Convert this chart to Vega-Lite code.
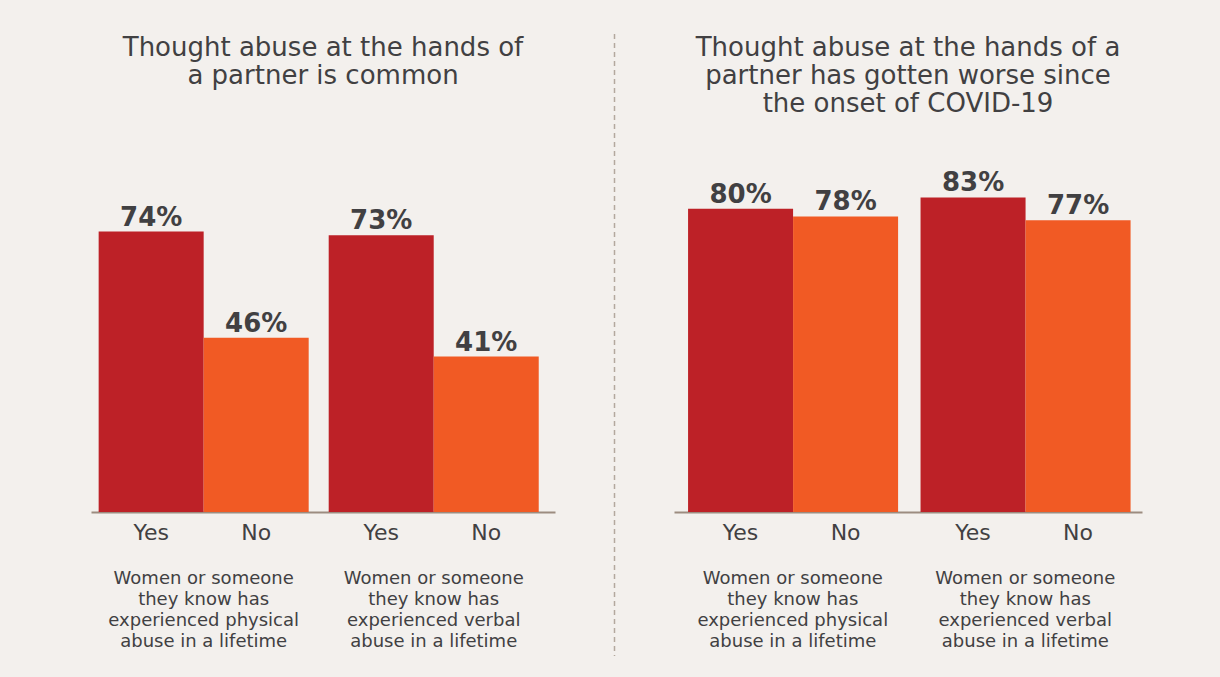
{
  "$schema": "https://vega.github.io/schema/vega-lite/v6.json",
  "background": "#F3F0ED",
  "padding": {"left": 91, "top": 33, "right": 80, "bottom": 23},
  "config": {
    "view": {"stroke": null},
    "font": "DejaVu Sans",
    "title": {"color": "#414042", "fontSize": 26, "fontWeight": 400, "lineHeight": 28, "anchor": "middle"}
  },
  "spacing": 58,
  "datasets": {
    "bars": [
      {"panel": "A", "group": "Women or someone|they know has|experienced physical|abuse in a lifetime", "answer": "Yes", "value": 0.74},
      {"panel": "A", "group": "Women or someone|they know has|experienced physical|abuse in a lifetime", "answer": "No", "value": 0.46},
      {"panel": "A", "group": "Women or someone|they know has|experienced verbal|abuse in a lifetime", "answer": "Yes", "value": 0.73},
      {"panel": "A", "group": "Women or someone|they know has|experienced verbal|abuse in a lifetime", "answer": "No", "value": 0.41},
      {"panel": "B", "group": "Women or someone|they know has|experienced physical|abuse in a lifetime", "answer": "Yes", "value": 0.80},
      {"panel": "B", "group": "Women or someone|they know has|experienced physical|abuse in a lifetime", "answer": "No", "value": 0.78},
      {"panel": "B", "group": "Women or someone|they know has|experienced verbal|abuse in a lifetime", "answer": "Yes", "value": 0.83},
      {"panel": "B", "group": "Women or someone|they know has|experienced verbal|abuse in a lifetime", "answer": "No", "value": 0.77}
    ],
    "sep": [{"top": 1.261, "bottom": -0.38}]
  },
  "hconcat": [
    {
      "width": 464,
      "height": 379,
      "title": {"text": ["Thought abuse at the hands of", "a partner is common"], "offset": 44},
      "data": {"name": "bars"},
      "transform": [{"filter": "datum.panel == 'A'"}],
      "encoding": {
        "x": {
          "field": "group", "type": "nominal", "sort": null,
          "scale": {"paddingInner": 0.087, "paddingOuter": 0.052, "align": 0.32},
          "axis": {"title": null, "ticks": false, "labelAngle": 0, "labelPadding": 57, "labelFontSize": 18, "labelFontWeight": 500, "labelColor": "#414042", "labelLineHeight": 21, "labelLimit": 0, "labelExpr": "split(datum.value, '|')", "domainColor": "#9C8C80", "domainWidth": 2}
        },
        "xOffset": {"field": "answer", "type": "nominal", "sort": ["Yes", "No"], "scale": {"paddingInner": 0, "paddingOuter": 0}}
      },
      "layer": [
        {
          "mark": {"type": "bar"},
          "encoding": {
            "y": {"field": "value", "type": "quantitative", "scale": {"domain": [0, 1]}, "axis": null},
            "color": {"field": "answer", "type": "nominal", "scale": {"domain": ["Yes", "No"], "range": ["#BD2127", "#F15A24"]}, "legend": null}
          }
        },
        {
          "mark": {"type": "text", "baseline": "alphabetic", "dy": -6, "fontSize": 26, "fontWeight": "bold", "color": "#414042"},
          "encoding": {
            "y": {"field": "value", "type": "quantitative"},
            "text": {"field": "value", "type": "quantitative", "format": ".0%"}
          }
        },
        {
          "mark": {"type": "text", "baseline": "alphabetic", "dy": 28, "fontSize": 22, "color": "#414042"},
          "encoding": {
            "y": {"datum": 0},
            "text": {"field": "answer", "type": "nominal"}
          }
        }
      ]
    },
    {
      "width": 1,
      "height": 379,
      "data": {"name": "sep"},
      "mark": {"type": "rule", "clip": false, "color": "#B3A89E", "strokeWidth": 1.5, "strokeDash": [5, 4]},
      "encoding": {
        "y": {"field": "top", "type": "quantitative", "scale": {"domain": [0, 1]}, "axis": null},
        "y2": {"field": "bottom"}
      }
    },
    {
      "width": 468,
      "height": 379,
      "title": {"text": ["Thought abuse at the hands of a", "partner has gotten worse since", "the onset of COVID-19"], "offset": 16},
      "data": {"name": "bars"},
      "transform": [{"filter": "datum.panel == 'B'"}],
      "encoding": {
        "x": {
          "field": "group", "type": "nominal", "sort": null,
          "scale": {"paddingInner": 0.099, "paddingOuter": 0.056, "align": 0.54},
          "axis": {"title": null, "ticks": false, "labelAngle": 0, "labelPadding": 57, "labelFontSize": 18, "labelFontWeight": 500, "labelColor": "#414042", "labelLineHeight": 21, "labelLimit": 0, "labelExpr": "split(datum.value, '|')", "domainColor": "#9C8C80", "domainWidth": 2}
        },
        "xOffset": {"field": "answer", "type": "nominal", "sort": ["Yes", "No"], "scale": {"paddingInner": 0, "paddingOuter": 0}}
      },
      "layer": [
        {
          "mark": {"type": "bar"},
          "encoding": {
            "y": {"field": "value", "type": "quantitative", "scale": {"domain": [0, 1]}, "axis": null},
            "color": {"field": "answer", "type": "nominal", "scale": {"domain": ["Yes", "No"], "range": ["#BD2127", "#F15A24"]}, "legend": null}
          }
        },
        {
          "mark": {"type": "text", "baseline": "alphabetic", "dy": -6, "fontSize": 26, "fontWeight": "bold", "color": "#414042"},
          "encoding": {
            "y": {"field": "value", "type": "quantitative"},
            "text": {"field": "value", "type": "quantitative", "format": ".0%"}
          }
        },
        {
          "mark": {"type": "text", "baseline": "alphabetic", "dy": 28, "fontSize": 22, "color": "#414042"},
          "encoding": {
            "y": {"datum": 0},
            "text": {"field": "answer", "type": "nominal"}
          }
        }
      ]
    }
  ]
}
